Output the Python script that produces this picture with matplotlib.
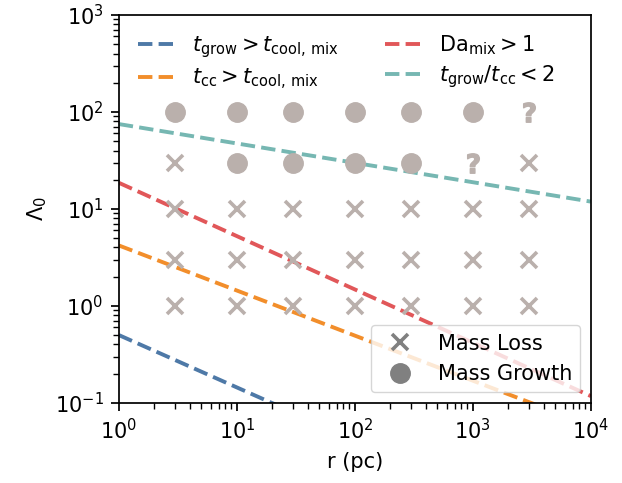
import numpy as np
import matplotlib.pyplot as plt

plt.rcParams['font.size'] = 15
plt.rcParams['axes.linewidth'] = 1.25
plt.rcParams['xtick.major.size'] = 6
plt.rcParams['ytick.major.size'] = 6
plt.rcParams['xtick.minor.size'] = 4
plt.rcParams['ytick.minor.size'] = 4
plt.rcParams['xtick.major.width'] = 1.25
plt.rcParams['ytick.major.width'] = 1.25
plt.rcParams['xtick.minor.width'] = 1.0
plt.rcParams['ytick.minor.width'] = 1.0
plt.rcParams['xtick.major.pad'] = 5
plt.rcParams['ytick.major.pad'] = 5

# simulation grid
r_grid = [3, 10, 30, 100, 300, 1000, 3000]
lam_grid = [100, 30, 10, 3, 1]
# outcome per (lambda row, r column): 'x' loss, 'o' growth, '?' unclear
outcome = [
    ['o', 'o', 'o', 'o', 'o', 'o', '?'],
    ['x', 'o', 'o', 'o', 'o', '?', 'x'],
    ['x', 'x', 'x', 'x', 'x', 'x', 'x'],
    ['x', 'x', 'x', 'x', 'x', 'x', 'x'],
    ['x', 'x', 'x', 'x', 'x', 'x', 'x'],
]

# analytic boundaries: Lambda = A * r**p
r_line = np.logspace(0, 4, 200)
A_grow, p_grow = 0.5, -0.54
A_cc, p_cc = 4.2, -0.465
A_da, p_da = 18.6, -0.55
A_ratio, p_ratio = 75.0, -0.2

c_blue = '#4e79a7'
c_orange = '#f28e2b'
c_red = '#e15759'
c_teal = '#76b7b2'
c_pt = '#bab0ac'

fig, ax = plt.subplots(figsize=(6.22, 4.83), dpi=100)
fig.subplots_adjust(left=0.191, right=0.950, top=0.969, bottom=0.166)

l1, = ax.plot(r_line, A_grow * r_line**p_grow, ls='--', lw=2.8, color=c_blue,
              label=r'$t_{\rm grow} > t_{\rm cool,\,mix}$')
l2, = ax.plot(r_line, A_cc * r_line**p_cc, ls='--', lw=2.8, color=c_orange,
              label=r'$t_{\rm cc} > t_{\rm cool,\,mix}$')
l3, = ax.plot(r_line, A_da * r_line**p_da, ls='--', lw=2.8, color=c_red,
              label=r'$\mathrm{Da}_{\rm mix} > 1$')
l4, = ax.plot(r_line, A_ratio * r_line**p_ratio, ls='--', lw=2.8, color=c_teal,
              label=r'$t_{\rm grow}/t_{\rm cc} < 2$')

for i, lam in enumerate(lam_grid):
    for j, r in enumerate(r_grid):
        o = outcome[i][j]
        if o == 'x':
            ax.plot(r, lam, marker='x', ms=12, mew=2.6, color=c_pt, ls='none')
        elif o == 'o':
            ax.plot(r, lam, marker='o', ms=14, color=c_pt, ls='none')
        else:
            ax.plot(r, lam, marker=r'$\mathbf{?}$', ms=14, color=c_pt, ls='none')

ax.set_xscale('log')
ax.set_yscale('log')
ax.set_xlim(1, 1e4)
ax.set_ylim(0.1, 1e3)
ax.set_xlabel('r (pc)', labelpad=6)
ax.set_ylabel(r'$\Lambda_0$')

leg1 = ax.legend(handles=[l1, l2, l3, l4], loc='upper left', ncol=2,
                 frameon=False, columnspacing=2.2, handlelength=1.8,
                 labelspacing=0.3)
ax.add_artist(leg1)
h_loss, = ax.plot([], [], marker='x', ms=12, mew=2.6, color='gray', ls='none',
                  label='Mass Loss')
h_grow, = ax.plot([], [], marker='o', ms=14, color='gray', ls='none',
                  label='Mass Growth')
ax.legend(handles=[h_loss, h_grow], loc='lower right')

fig.savefig('out.png', dpi=100)
